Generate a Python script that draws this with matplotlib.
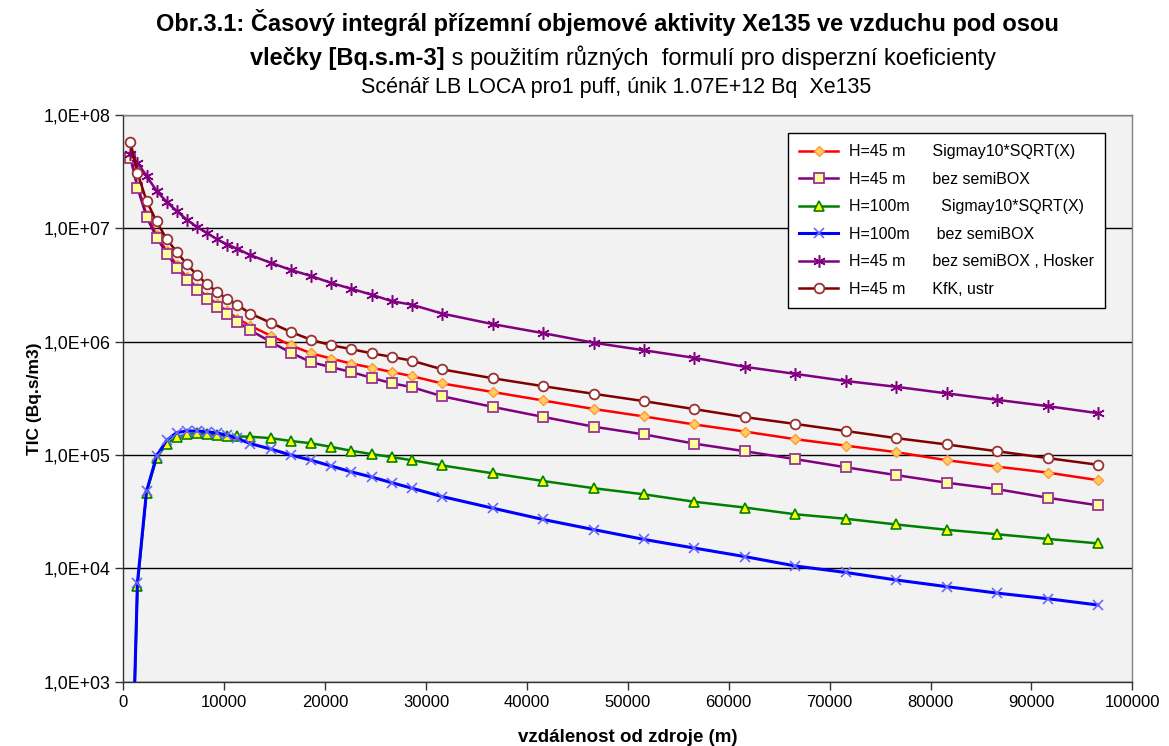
import matplotlib
matplotlib.use("Agg")
import matplotlib.pyplot as plt
from matplotlib import font_manager
from matplotlib.ticker import FixedLocator, FuncFormatter, NullLocator
import numpy as np

# vzdálenosti výpočtových bodů (m)
vzdalenost = [700, 1400, 2300, 3300, 4300, 5300, 6300, 7300, 8300, 9300, 10300, 11300,
              12600, 14600, 16600, 18600, 20600, 22600, 24600, 26600, 28600, 31600,
              36600, 41600, 46600, 51600, 56600, 61600, 66600, 71600, 76600, 81600,
              86600, 91600, 96600]

# TIC (Bq.s/m3) pro jednotlivé varianty
h45_sigmay = [4.4e7, 2.4e7, 1.32e7, 8.7e6, 6.3e6, 4.75e6, 3.7e6, 3.0e6, 2.5e6, 2.15e6,
              1.86e6, 1.6e6, 1.38e6, 1.13e6, 9.3e5, 7.9e5, 7.1e5, 6.4e5, 5.9e5, 5.4e5,
              4.97e5, 4.28e5, 3.6e5, 3.03e5, 2.55e5, 2.19e5, 1.86e5, 1.61e5, 1.38e5,
              1.21e5, 1.06e5, 9.0e4, 7.9e4, 7.0e4, 6.0e4]
h45_bez = [4.2e7, 2.29e7, 1.26e7, 8.3e6, 6.0e6, 4.5e6, 3.5e6, 2.84e6, 2.37e6, 2.03e6,
           1.75e6, 1.50e6, 1.26e6, 9.96e5, 8.0e5, 6.6e5, 5.96e5, 5.4e5, 4.8e5, 4.3e5,
           3.97e5, 3.3e5, 2.66e5, 2.17e5, 1.78e5, 1.52e5, 1.26e5, 1.08e5, 9.2e4, 7.8e4,
           6.65e4, 5.7e4, 5.0e4, 4.2e4, 3.6e4]
h100_sigmay = [40, 7.0e3, 4.67e4, 9.4e4, 1.26e5, 1.43e5, 1.53e5, 1.55e5, 1.53e5, 1.50e5,
               1.48e5, 1.46e5, 1.45e5, 1.41e5, 1.33e5, 1.27e5, 1.18e5, 1.09e5, 1.02e5,
               9.6e4, 9.0e4, 8.1e4, 6.9e4, 5.9e4, 5.1e4, 4.5e4, 3.87e4, 3.44e4, 3.0e4,
               2.74e4, 2.44e4, 2.19e4, 2.0e4, 1.82e4, 1.66e4]
h100_bez = [40, 7.5e3, 4.8e4, 9.8e4, 1.35e5, 1.58e5, 1.63e5, 1.63e5, 1.61e5, 1.56e5,
            1.50e5, 1.40e5, 1.26e5, 1.13e5, 1.0e5, 9.0e4, 8.0e4, 7.1e4, 6.4e4, 5.7e4,
            5.1e4, 4.3e4, 3.4e4, 2.7e4, 2.2e4, 1.8e4, 1.51e4, 1.27e4, 1.05e4, 9.2e3,
            7.9e3, 6.9e3, 6.05e3, 5.4e3, 4.75e3]
h45_hosker = [4.5e7, 3.8e7, 2.9e7, 2.14e7, 1.71e7, 1.42e7, 1.19e7, 1.03e7, 9.1e6, 8.0e6,
              7.2e6, 6.6e6, 5.8e6, 4.97e6, 4.3e6, 3.8e6, 3.3e6, 2.93e6, 2.6e6, 2.28e6,
              2.12e6, 1.77e6, 1.43e6, 1.19e6, 9.8e5, 8.4e5, 7.2e5, 6.0e5, 5.2e5, 4.5e5,
              4.0e5, 3.5e5, 3.07e5, 2.70e5, 2.34e5]
h45_kfk = [5.78e7, 3.10e7, 1.75e7, 1.15e7, 8.0e6, 6.2e6, 4.8e6, 3.88e6, 3.21e6, 2.75e6,
           2.37e6, 2.11e6, 1.77e6, 1.47e6, 1.22e6, 1.04e6, 9.3e5, 8.6e5, 7.9e5, 7.35e5,
           6.8e5, 5.7e5, 4.76e5, 4.05e5, 3.47e5, 2.99e5, 2.54e5, 2.16e5, 1.88e5, 1.63e5,
           1.41e5, 1.24e5, 1.08e5, 9.4e4, 8.2e4]

popisky = ["H=45 m      Sigmay10*SQRT(X)",
           "H=45 m      bez semiBOX",
           "H=100m       Sigmay10*SQRT(X)",
           "H=100m      bez semiBOX",
           "H=45 m      bez semiBOX , Hosker",
           "H=45 m      KfK, ustr"]

x_ticks = np.arange(0, 100001, 10000)
y_ticks = [1e3, 1e4, 1e5, 1e6, 1e7, 1e8]

names = {f.name for f in font_manager.fontManager.ttflist}
narrow = "Liberation Sans Narrow" if "Liberation Sans Narrow" in names else "Liberation Sans"
plt.rcParams["font.family"] = ["Liberation Sans", "DejaVu Sans"]

fig = plt.figure(figsize=(11.69, 7.46), dpi=100, facecolor="white")
ax = fig.add_axes([0.1055, 0.0862, 0.8631, 0.7596])
ax.set_facecolor("#f2f2f2")

lw = 1.8
ax.plot(vzdalenost, h45_sigmay, color="#ff0000", lw=lw, marker="D", ms=5.5,
        mfc="#ffcc66", mec="#ff9933", mew=1.0, label=popisky[0], zorder=3)
ax.plot(vzdalenost, h45_bez, color="#800080", lw=lw, marker="s", ms=7,
        mfc="#ffff99", mec="#993399", mew=1.3, label=popisky[1], zorder=4)
ax.plot(vzdalenost, h100_sigmay, color="#008000", lw=lw, marker="^", ms=7,
        mfc="#ffff00", mec="#008000", mew=1.2, label=popisky[2], zorder=5)
ax.plot(vzdalenost, h100_bez, color="#0000ff", lw=lw + 0.4, marker="x", ms=7,
        mec="#6666ff", mew=1.2, label=popisky[3], zorder=6)
ax.plot(vzdalenost, h45_hosker, color="#800080", lw=lw, marker=(6, 2, 0), ms=9,
        mec="#800080", mew=1.1, label=popisky[4], zorder=7)
ax.plot(vzdalenost, h45_kfk, color="#800000", lw=lw, marker="o", ms=7,
        mfc="white", mec="#993333", mew=1.3, label=popisky[5], zorder=8)

ax.set_yscale("log")
ax.set_xlim(0, 100000)
ax.set_ylim(1e3, 1e8)
ax.xaxis.set_major_locator(FixedLocator(x_ticks))
ax.yaxis.set_major_locator(FixedLocator(y_ticks))
ax.yaxis.set_minor_locator(NullLocator())
ax.yaxis.set_major_formatter(FuncFormatter(lambda v, p: "1,0E+%02d" % round(np.log10(v))))
ax.xaxis.set_major_formatter(FuncFormatter(lambda v, p: "%d" % v))
ax.tick_params(axis="both", labelsize=12, length=6, width=1.0, color="#333333",
               direction="out")
ax.tick_params(axis="y", labelsize=12.8)
ax.grid(True, axis="y", color="black", lw=1.0)
ax.set_axisbelow(True)
for s in ax.spines.values():
    s.set_color("#808080")
    s.set_linewidth(1.0)
ax.spines["left"].set_color("#333333")
ax.spines["bottom"].set_color("#333333")

ax.set_xlabel("vzdálenost od zdroje (m)", fontsize=13.5, fontweight="bold", labelpad=14)
ax.set_ylabel("TIC (Bq.s/m3)", fontsize=12.5, fontweight="bold", labelpad=1)

leg = ax.legend(loc="upper right", bbox_to_anchor=(0.973, 0.968), borderaxespad=0,
                fontsize=11.5, frameon=True, fancybox=False, edgecolor="black",
                facecolor="white", framealpha=1.0, handlelength=2.4, labelspacing=0.78,
                borderpad=0.7, handletextpad=0.7)
leg.get_frame().set_linewidth(1.0)
leg.set_zorder(10)

# nadpis
fig.text(0.52, 0.970, "Obr.3.1: Časový integrál přízemní objemové aktivity Xe135 ve vzduchu pod osou",
         ha="center", va="center", fontsize=17, fontweight="bold", family=narrow)
r = fig.canvas.get_renderer()
tb = fig.text(0, 0.922, "vlečky [Bq.s.m-3]", ha="left", va="center", fontsize=17,
              fontweight="bold", family=narrow)
tr = fig.text(0, 0.922, " s použitím různých  formulí pro disperzní koeficienty",
              ha="left", va="center", fontsize=17, family=narrow)
W = fig.bbox.width
wb = tb.get_window_extent(r).width
wr = tr.get_window_extent(r).width
x0 = 0.533 * W - (wb + wr) / 2
tb.set_x(x0 / W)
tr.set_x((x0 + wb) / W)
fig.text(0.527, 0.883, "Scénář LB LOCA pro1 puff, únik 1.07E+12 Bq  Xe135",
         ha="center", va="center", fontsize=15.5, family=narrow)

fig.savefig("out.png", dpi=100, facecolor="white")
